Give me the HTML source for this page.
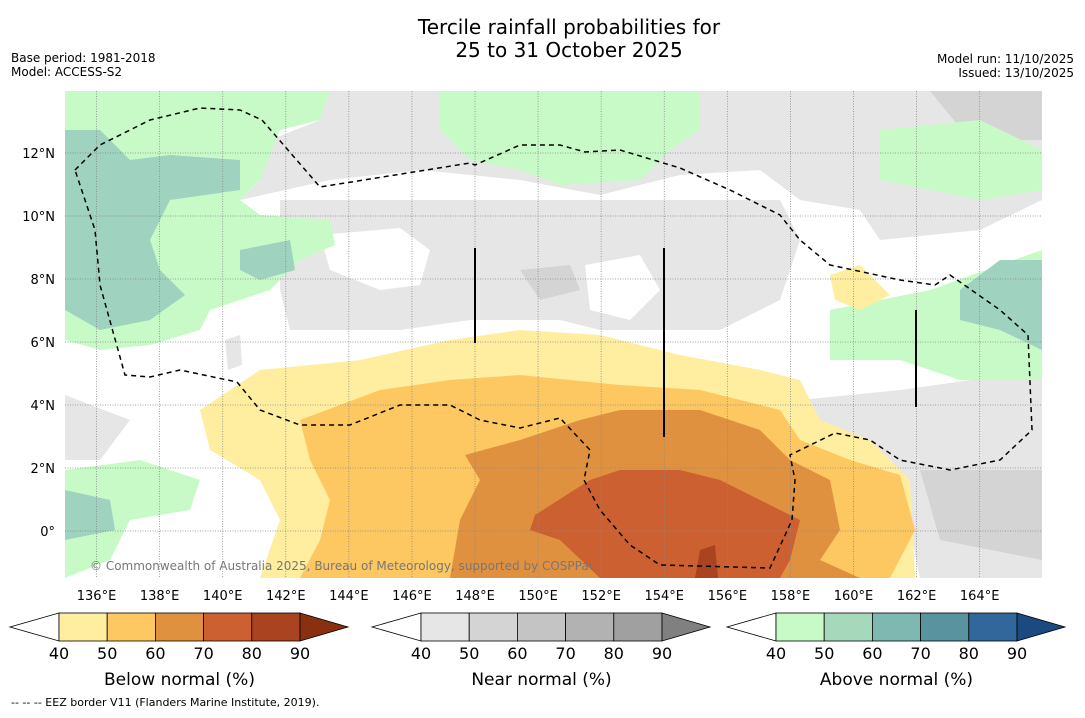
<!DOCTYPE html>
<html><head><meta charset="utf-8"><style>
body{margin:0;background:#fff;font-family:"Liberation Sans","DejaVu Sans",sans-serif;}
svg text{font-family:"DejaVu Sans","Liberation Sans",sans-serif;}
</style></head><body>
<svg id="chart" width="1085" height="713" xmlns="http://www.w3.org/2000/svg">
<rect width="1085" height="713" fill="#fff"/>
<text x="569" y="34" font-size="20" text-anchor="middle">Tercile rainfall probabilities for</text>
<text x="569" y="57" font-size="20" text-anchor="middle">25 to 31 October 2025</text>
<text x="11" y="62" font-size="12">Base period: 1981-2018</text>
<text x="11" y="76" font-size="12">Model: ACCESS-S2</text>
<text x="1074" y="63" font-size="12" text-anchor="end">Model run: 11/10/2025</text>
<text x="1074" y="77" font-size="12" text-anchor="end">Issued: 13/10/2025</text>
<defs><clipPath id="mc"><rect x="65" y="91" width="977" height="487"/></clipPath></defs>
<g clip-path="url(#mc)">
<polygon fill="#e6e6e6" points="240,200 330,180 420,170 520,180 600,195 680,175 760,170 800,200 860,210 880,240 980,230 1042,200 1042,91 330,91 320,120 270,140 260,180"/>
<polygon fill="#e6e6e6" points="280,200 780,200 800,240 780,300 720,330 600,330 560,320 470,320 400,330 290,330 280,290"/>
<polygon fill="#ffffff" points="320,235 400,228 430,250 420,285 380,290 330,270"/>
<polygon fill="#ffffff" points="585,265 640,255 660,290 630,320 590,310"/>
<polygon fill="#e6e6e6" points="800,400 900,390 1042,370 1042,578 920,578 900,480 850,460 810,440"/>
<polygon fill="#e6e6e6" points="65,395 130,420 100,460 65,460"/>
<polygon fill="#e6e6e6" points="225,340 240,335 242,365 228,370"/>
<polygon fill="#d4d4d4" points="930,91 1042,91 1042,140 970,140"/>
<polygon fill="#d4d4d4" points="920,470 1042,470 1042,560 940,540"/>
<polygon fill="#d4d4d4" points="520,270 570,265 580,290 540,300"/>
<polygon fill="#c8fac8" points="65,91 330,91 320,120 280,130 260,180 240,200 260,215 330,220 335,245 300,260 270,290 210,310 200,330 150,345 100,350 65,340"/>
<polygon fill="#c8fac8" points="440,91 700,91 700,130 670,150 640,180 560,185 520,170 470,160 440,130"/>
<polygon fill="#c8fac8" points="880,130 980,120 1042,150 1042,190 980,200 880,180"/>
<polygon fill="#c8fac8" points="830,310 930,290 1042,250 1042,380 960,380 900,360 830,360"/>
<polygon fill="#c8fac8" points="65,470 140,460 200,480 190,510 130,520 110,560 65,578"/>
<polygon fill="#9fd3c0" points="65,130 100,130 130,160 170,155 240,160 240,190 170,200 150,240 160,270 185,295 150,320 100,330 65,310"/>
<polygon fill="#9fd3c0" points="240,250 290,240 295,270 260,280 240,270"/>
<polygon fill="#9fd3c0" points="960,290 1000,260 1042,260 1042,350 1000,330 960,320"/>
<polygon fill="#9fd3c0" points="65,490 110,500 115,530 65,540"/>
<polygon fill="#ffeda0" points="200,410 260,370 360,360 450,340 520,330 600,335 680,355 760,370 800,380 820,420 870,440 910,480 915,578 260,578 280,520 260,480 210,450"/>
<polygon fill="#ffeda0" points="830,275 860,265 890,295 860,310 835,300"/>
<polygon fill="#fdc862" points="300,420 380,390 450,380 520,375 620,385 700,390 780,410 800,440 850,460 900,475 915,530 890,578 300,578 320,540 330,500 310,460"/>
<polygon fill="#e0913f" points="465,455 520,440 580,420 620,410 700,410 760,430 790,460 830,480 840,530 820,560 860,578 450,578 460,520 480,480"/>
<polygon fill="#cc6030" points="535,515 590,480 620,470 680,470 720,480 760,500 800,520 790,560 780,578 600,578 560,540 530,530"/>
<polygon fill="#aa4420" points="700,550 715,545 718,578 695,578"/>
<g id="grid"></g>
<polyline fill="none" stroke="#000" stroke-width="1.5" stroke-dasharray="5,4" points="75,170 100,145 150,120 200,108 240,110 262,120 320,187 470,163 475,165 520,145 560,145 585,152 620,150 680,168 730,190 780,215 800,240 830,265 900,280 935,285 950,275 1000,310 1028,335 1032,430 1000,460 950,470 900,460 870,440 835,433 790,455 795,480 792,520 770,568 660,565 630,545 600,510 584,480 590,450 560,418 520,428 480,420 450,405 400,405 350,425 300,425 260,410 237,382 180,370 150,377 125,375 100,285 95,230 85,200 75,170"/>
<line x1="475" y1="248" x2="475" y2="343" stroke="#000" stroke-width="2"/>
<line x1="664" y1="248" x2="664" y2="437" stroke="#000" stroke-width="2"/>
<line x1="916" y1="310" x2="916" y2="407" stroke="#000" stroke-width="2"/>
<text x="90" y="570" font-size="12" fill="#777">© Commonwealth of Australia 2025, Bureau of Meteorology, supported by COSPPac</text>
</g>
<g id="axes"></g>
<g id="bars"></g>
<text x="11" y="706" font-size="11">--  --  -- EEZ border V11 (Flanders Marine Institute, 2019).</text>
</svg>
<script>
const lonTicks=[136,138,140,142,144,146,148,150,152,154,156,158,160,162,164];
const latTicks=[0,2,4,6,8,10,12];
const cbTicks=[40,50,60,70,80,90];
const belowColors=["#ffeda0","#fdc862","#e0913f","#cc6030","#aa4420","#8a3010"];
const nearColors=["#e6e6e6","#d4d4d4","#c4c4c4","#b2b2b2","#a0a0a0","#808080"];
const aboveColors=["#c8fac8","#a6d8bc","#7fb8b0","#5a93a0","#31679a","#1a4a80"];
const barTitles=["Below normal (%)","Near normal (%)","Above normal (%)"];
const NS="http://www.w3.org/2000/svg";
const xLon=l=>65+(l-135)*31.54;
const yLat=a=>531-a*31.5;
const grid=document.getElementById('grid'),axes=document.getElementById('axes');
function mk(t,at,p){const e=document.createElementNS(NS,t);for(const k in at)e.setAttribute(k,at[k]);p.appendChild(e);return e;}
lonTicks.forEach(l=>{
 const ln=mk('line',{x1:xLon(l),x2:xLon(l),y1:91,y2:578,stroke:'#888','stroke-width':0.8,'stroke-dasharray':'1,1.5'},grid);
 
 
 const t=mk('text',{x:xLon(l),y:600,'font-size':13,'text-anchor':'middle'},axes);t.textContent=l+'°E';
 
 
});
latTicks.forEach(a=>{
 const ln=mk('line',{x1:65,x2:1042,y1:yLat(a),y2:yLat(a),stroke:'#888','stroke-width':0.8,'stroke-dasharray':'1,1.5'},grid);
 
 
 const t=mk('text',{x:55,y:yLat(a)+5,'font-size':13,'text-anchor':'end'},axes);t.textContent=a===0?'0°':a+'°N';
 
 
});
const bars=document.getElementById('bars');
[[10,belowColors],[372,nearColors],[727,aboveColors]].forEach(([x0,cols],bi)=>{
 const seg=48.2,y0=613,h=28,x1=x0+49;
 const tri=mk('polygon',{points:`${x1},${y0} ${x0},${y0+h/2} ${x1},${y0+h}`,fill:'#fff',stroke:'#000','stroke-width':0.8},bars);
 
 
 cols.slice(0,5).forEach((c,i)=>{
  const r=mk('rect',{x:x1+i*seg,y:y0,width:seg,height:h,fill:c,stroke:'#000','stroke-width':0.8},bars);
  
  
 });
 const xe=x1+5*seg;
 const t2=mk('polygon',{points:`${xe},${y0} ${xe+48},${y0+h/2} ${xe},${y0+h}`,fill:cols[5],stroke:'#000','stroke-width':0.8},bars);
 
 
 cbTicks.forEach((v,i)=>{
  const t=mk('text',{x:x1+i*seg,y:659,'font-size':16,'text-anchor':'middle'},bars);t.textContent=v;
  
  
 });
 const tt=mk('text',{x:x1+2.5*seg,y:685,'font-size':17,'text-anchor':'middle'},bars);tt.textContent=barTitles[bi];
 
 
});
</script>
</body></html>
